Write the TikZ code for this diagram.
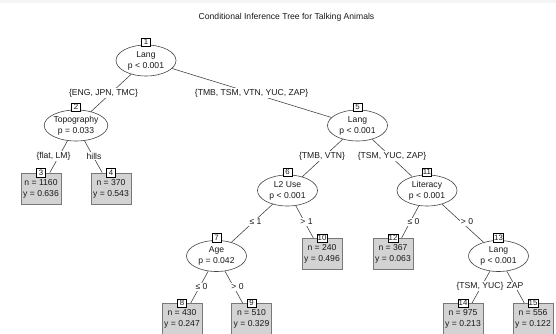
\documentclass[tikz,border=0pt]{standalone}
\usepackage{fontspec}
\setmainfont{Liberation Sans}
\usetikzlibrary{shapes.geometric}
\definecolor{linec}{RGB}{70,70,70}
\definecolor{leaffill}{RGB}{211,211,211}
\definecolor{leafdraw}{RGB}{120,120,120}
\definecolor{topstrip}{RGB}{244,245,246}
\definecolor{textc}{RGB}{25,25,25}
\begin{document}
\begin{tikzpicture}[x=1pt,y=-1pt,
  every node/.style={font=\fontsize{8.6}{11}\selectfont, text=textc},
  inner/.style={ellipse, draw=linec, fill=white, line width=0.6pt, minimum width=60pt, minimum height=31pt, inner sep=0pt, align=center},
  leafbox/.style={rectangle, draw=leafdraw, fill=leaffill, line width=0.8pt, minimum width=40pt, minimum height=31pt, inner sep=0pt, align=center},
  idbox/.style={rectangle, draw=black, fill=white, line width=0.45pt, minimum width=9pt, minimum height=8.5pt, inner sep=0.6pt, font=\fontsize{7.8}{9}\selectfont},
  edge/.style={draw=linec, line width=0.6pt},
  elab/.style={fill=white, inner sep=0.6pt}]
\useasboundingbox (0,0) rectangle (556,334);
\fill[topstrip] (0,0) rectangle (556,3.5);
\node (title) at (286.5,17) {Conditional Inference Tree for Talking Animals};
% inner nodes
\node[inner] (n1) at (146,60.5) {Lang\\p < 0.001};
\node[inner] (n2) at (76,125.5) {Topography\\p = 0.033};
\node[inner] (n5) at (357.5,125.5) {Lang\\p < 0.001};
\node[inner] (n6) at (287.5,190.5) {L2 Use\\p < 0.001};
\node[inner] (n11) at (427,190.5) {Literacy\\p < 0.001};
\node[inner] (n7) at (216.5,256) {Age\\p = 0.042};
\node[inner] (n13) at (498.5,256) {Lang\\p < 0.001};
% leaves
\node[leafbox] (l3) at (41,188.5) {n = 1160\\y = 0.636};
\node[leafbox] (l4) at (111,188.5) {n = 370\\y = 0.543};
\node[leafbox] (l10) at (322,254) {n = 240\\y = 0.496};
\node[leafbox] (l12) at (393,254) {n = 367\\y = 0.063};
\node[leafbox] (l8) at (182,319) {n = 430\\y = 0.247};
\node[leafbox] (l9) at (251.5,319) {n = 510\\y = 0.329};
\node[leafbox] (l14) at (463,319) {n = 975\\y = 0.213};
\node[leafbox] (l15) at (533,319) {n = 556\\y = 0.122};
% edges
\draw[edge] (n1) -- (n2) node[elab] at (103.5,93) {\{ENG, JPN, TMC\}};
\draw[edge] (n1) -- (n5) node[elab] at (251.5,93) {\{TMB, TSM, VTN, YUC, ZAP\}};
\draw[edge] (n2) -- (l3) node[elab] at (53.5,156) {\{flat, LM\}};
\draw[edge] (n2) -- (l4) node[elab] at (94,156) {hills};
\draw[edge] (n5) -- (n6) node[elab] at (322,156) {\{TMB, VTN\}};
\draw[edge] (n5) -- (n11) node[elab] at (392,156) {\{TSM, YUC, ZAP\}};
\draw[edge] (n6) -- (n7) node[elab] at (255.5,222) {≤ 1};
\draw[edge] (n6) -- (l10) node[elab] at (306.5,222) {> 1};
\draw[edge] (n11) -- (l12) node[elab] at (413.5,222) {≤ 0};
\draw[edge] (n11) -- (n13) node[elab] at (467,222) {> 0};
\draw[edge] (n7) -- (l8) node[elab] at (201.5,287) {≤ 0};
\draw[edge] (n7) -- (l9) node[elab] at (237.5,287) {> 0};
\draw[edge] (n13) -- (l14) node[elab] at (480,286) {\{TSM, YUC\}};
\draw[edge] (n13) -- (l15) node[elab] at (515,286) {ZAP};
% id boxes
\node[idbox] (i1) at ([yshift=2.5pt]n1.north) {1};
\node[idbox] (i2) at ([yshift=2.5pt]n2.north) {2};
\node[idbox] (i5) at ([yshift=2.5pt]n5.north) {5};
\node[idbox] (i6) at ([yshift=2.5pt]n6.north) {6};
\node[idbox] (i11) at ([yshift=2.5pt]n11.north) {11};
\node[idbox] (i7) at ([yshift=2.5pt]n7.north) {7};
\node[idbox] (i13) at ([yshift=2.5pt]n13.north) {13};
\node[idbox] (i3) at (l3.north) {3};
\node[idbox] (i4) at (l4.north) {4};
\node[idbox] (i10) at (l10.north) {10};
\node[idbox] (i12) at (l12.north) {12};
\node[idbox] (i8) at (l8.north) {8};
\node[idbox] (i9) at (l9.north) {9};
\node[idbox] (i14) at (l14.north) {14};
\node[idbox] (i15) at (l15.north) {15};
\end{tikzpicture}
\end{document}
